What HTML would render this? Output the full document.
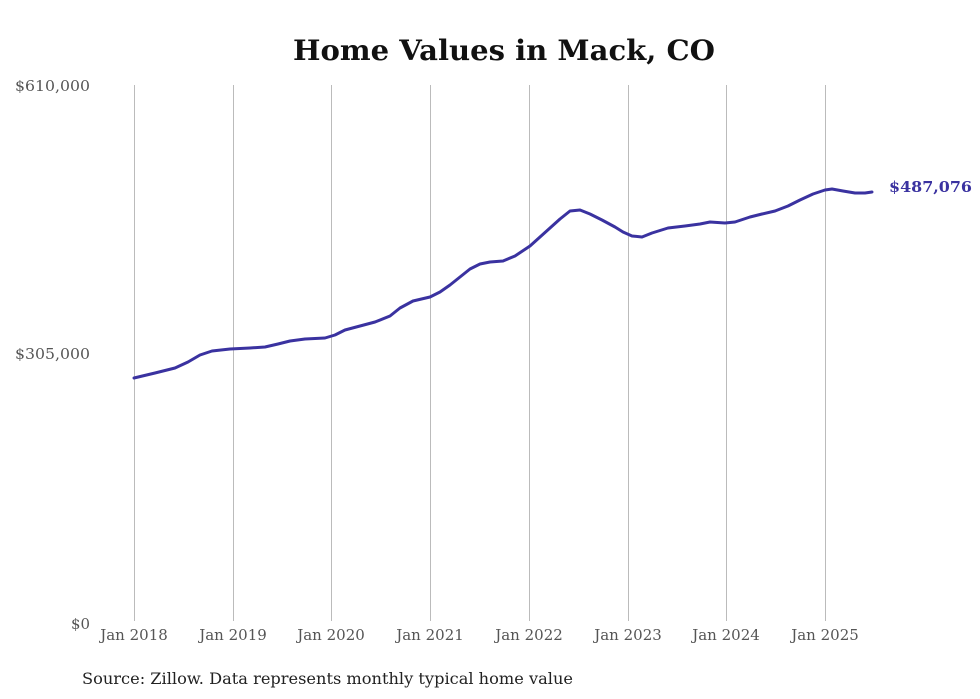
<!DOCTYPE html>
<html><head><meta charset="utf-8"><style>
html,body{margin:0;padding:0;background:#fff;}
svg{display:block;font-family:"DejaVu Serif","Liberation Serif",serif;}
</style></head><body>
<svg width="980" height="699" viewBox="0 0 980 699" xmlns="http://www.w3.org/2000/svg">
<text x="293" y="60" textLength="422" lengthAdjust="spacingAndGlyphs" font-size="28" font-weight="bold" fill="#111">Home Values in Mack, CO</text>
<g stroke="#bbb" stroke-width="1">
<line x1="134.5" y1="85" x2="134.5" y2="621"/>
<line x1="233.5" y1="85" x2="233.5" y2="621"/>
<line x1="331.5" y1="85" x2="331.5" y2="621"/>
<line x1="430.5" y1="85" x2="430.5" y2="621"/>
<line x1="529.5" y1="85" x2="529.5" y2="621"/>
<line x1="628.5" y1="85" x2="628.5" y2="621"/>
<line x1="726.5" y1="85" x2="726.5" y2="621"/>
<line x1="825.5" y1="85" x2="825.5" y2="621"/>
</g>
<g font-size="15" fill="#555">
<text x="15" y="91" textLength="75" lengthAdjust="spacingAndGlyphs">$610,000</text>
<text x="15" y="359" textLength="75" lengthAdjust="spacingAndGlyphs">$305,000</text>
<text x="71" y="629" textLength="19" lengthAdjust="spacingAndGlyphs">$0</text>
</g>
<g font-size="15" fill="#555" text-anchor="middle">
<text x="134" y="640">Jan 2018</text>
<text x="233" y="640">Jan 2019</text>
<text x="331" y="640">Jan 2020</text>
<text x="430" y="640">Jan 2021</text>
<text x="529" y="640">Jan 2022</text>
<text x="628" y="640">Jan 2023</text>
<text x="726" y="640">Jan 2024</text>
<text x="825" y="640">Jan 2025</text>
</g>
<text x="82" y="684" font-size="16" fill="#222" textLength="491" lengthAdjust="spacingAndGlyphs">Source: Zillow. Data represents monthly typical home value</text>
<path fill="none" stroke="#3a32a0" stroke-width="3" stroke-linejoin="round" stroke-linecap="round"
d="M134,378 L155,373 L175,368 L188,362 L200,355 L212,351 L230,349 L250,348 L265,347 L278,344 L290,341 L305,339 L325,338 L335,335 L345,330 L360,326 L375,322 L390,316 L400,308 L413,301 L430,297 L440,292 L450,285 L460,277 L470,269 L480,264 L490,262 L503,261 L515,256 L530,246 L540,237 L550,228 L560,219 L570,211 L580,210 L590,214 L602,220 L615,227 L623,232 L632,236 L642,237 L652,233 L668,228 L685,226 L700,224 L710,222 L725,223 L735,222 L750,217 L762,214 L775,211 L788,206 L800,200 L813,194 L825,190 L832,189 L843,191 L855,193 L865,193 L872,192"/>
<text x="889" y="192" font-size="15" font-weight="bold" fill="#3a32a0" textLength="83" lengthAdjust="spacingAndGlyphs">$487,076</text>
</svg>
</body></html>
